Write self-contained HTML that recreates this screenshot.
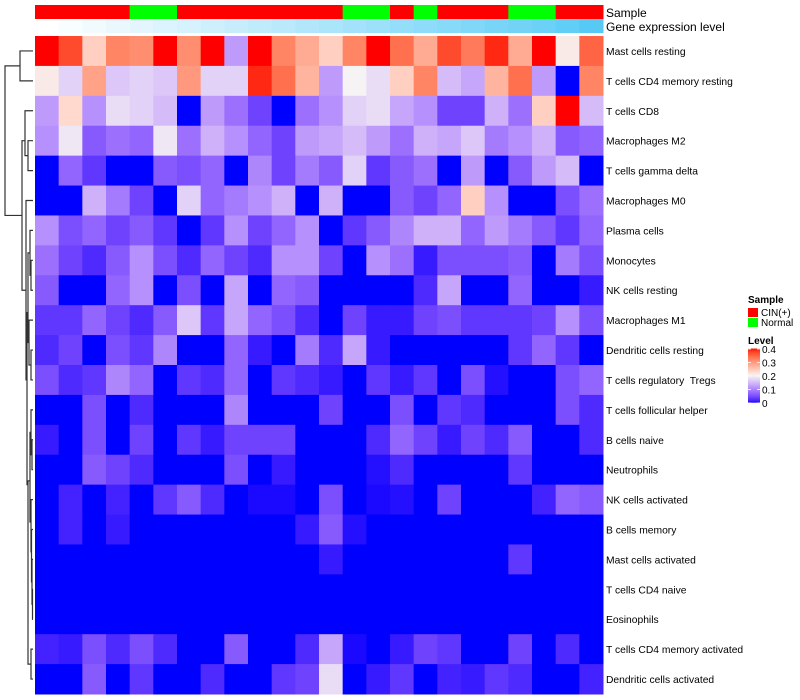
<!DOCTYPE html>
<html><head><meta charset="utf-8"><style>
html,body{margin:0;padding:0;background:#fff;}
svg{display:block;font-family:"Liberation Sans",Arial,sans-serif;}
</style></head><body>
<svg id="chart" width="800" height="700" viewBox="0 0 800 700"></svg>
<script>
const rowLabels=["Mast cells resting","T cells CD4 memory resting","T cells CD8","Macrophages M2","T cells gamma delta","Macrophages M0","Plasma cells","Monocytes","NK cells resting","Macrophages M1","Dendritic cells resting","T cells regulatory  Tregs","T cells follicular helper","B cells naive","Neutrophils","NK cells activated","B cells memory","Mast cells activated","T cells CD4 naive","Eosinophils","T cells CD4 memory activated","Dendritic cells activated"];
const sampleGroups=["CIN","CIN","CIN","CIN","Normal","Normal","CIN","CIN","CIN","CIN","CIN","CIN","CIN","Normal","Normal","CIN","Normal","CIN","CIN","CIN","Normal","Normal","CIN","CIN"];
const geneLevel=[0,0.04,0.08,0.12,0.16,0.2,0.24,0.28,0.32,0.36,0.4,0.44,0.48,0.52,0.56,0.6,0.64,0.68,0.72,0.76,0.8,0.84,0.9,0.96];
const r01=[0.4,0.37,0.24,0.32,0.31,0.4,0.31,0.4,0.12,0.4,0.32,0.28,0.24,0.32,0.4,0.34,0.28,0.37,0.33,0.39,0.28,0.4,0.21,0.35];
const r02=[0.21,0.17,0.29,0.16,0.17,0.16,0.3,0.17,0.17,0.39,0.34,0.27,0.12,0.2,0.18,0.24,0.32,0.15,0.13,0.27,0.34,0.12,0,0.32];
const r03=[0.12,0.23,0.11,0.18,0.17,0.15,0,0.12,0.08,0.04,0,0.08,0.11,0.17,0.18,0.13,0.11,0.04,0.04,0.14,0.08,0.24,0.4,0.15];
const r04=[0.11,0.19,0.06,0.08,0.07,0.19,0.08,0.14,0.11,0.07,0.04,0.12,0.13,0.15,0.12,0.08,0.14,0.13,0.16,0.09,0.11,0.14,0.06,0.07];
const r05=[0,0.07,0.03,0,0,0.06,0.05,0.07,0,0.1,0.04,0.09,0.06,0.17,0.03,0.06,0.08,0,0.12,0,0.06,0.12,0.15,0];
const r06=[0,0,0.14,0.09,0.04,0,0.17,0.07,0.09,0.11,0.14,0,0.14,0,0,0.06,0.04,0.07,0.24,0.11,0,0,0.05,0.08];
const r07=[0.11,0.05,0.07,0.04,0.06,0.03,0,0.03,0.11,0.04,0.07,0.11,0,0.03,0.06,0.1,0.14,0.14,0.07,0.12,0.09,0.06,0.03,0.07];
const r08=[0.08,0.04,0.02,0.06,0.11,0.05,0.02,0.07,0.04,0.02,0.11,0.11,0.04,0,0.11,0.08,0.01,0.05,0.05,0.05,0.06,0,0.09,0.05];
const r09=[0.06,0,0,0.07,0.11,0,0.05,0,0.13,0,0.07,0.06,0,0,0,0,0.02,0.13,0,0,0.07,0,0,0.01];
const r10=[0.03,0.03,0.07,0.04,0.02,0.06,0.16,0.03,0.13,0.07,0.05,0.02,0,0.04,0.01,0.01,0.04,0.05,0.03,0.03,0.03,0.04,0.11,0.05];
const r11=[0.02,0.04,0,0.05,0.03,0.1,0,0,0.07,0.01,0,0.09,0.02,0.13,0.01,0,0,0,0,0,0.03,0.07,0.03,0];
const r12=[0.05,0.02,0.03,0.1,0.07,0,0.03,0.02,0.07,0,0.03,0.02,0.01,0,0.03,0.01,0.03,0,0.05,0.005,0,0,0.05,0.07];
const r13=[0,0,0.05,0,0.02,0,0,0,0.1,0,0,0,0.04,0,0,0.05,0,0.03,0.02,0,0,0,0.05,0.02];
const r14=[0.01,0,0.05,0,0.04,0,0.03,0.01,0.04,0.04,0.04,0,0,0,0.02,0.07,0.04,0.01,0.04,0.02,0.06,0,0,0.02];
const r15=[0,0,0.06,0.04,0.02,0,0,0,0.05,0,0.01,0,0,0,0.005,0.02,0,0,0,0,0.03,0,0,0];
const r16=[0,0.015,0,0.015,0,0.03,0.06,0.02,0,0.003,0.003,0,0.05,0,0.003,0.005,0,0.04,0,0,0,0.015,0.07,0.06];
const r17=[0,0.015,0,0.01,0,0,0,0,0,0,0,0.01,0.06,0.005,0,0,0,0,0,0,0,0,0,0];
const r18=[0,0,0,0,0,0,0,0,0,0,0,0,0.01,0,0,0,0,0,0,0,0.03,0,0,0];
const r19=[0,0,0,0,0,0,0,0,0,0,0,0,0,0,0,0,0,0,0,0,0,0,0,0];
const r20=[0,0,0,0,0,0,0,0,0,0,0,0,0,0,0,0,0,0,0,0,0,0,0,0];
const r21=[0.015,0.01,0.05,0.02,0.05,0.02,0,0,0.06,0,0,0.02,0.13,0.003,0,0.01,0.04,0.03,0,0,0.04,0,0.02,0];
const r22=[0,0,0.06,0,0.03,0,0,0.02,0,0,0.03,0.04,0.18,0,0.01,0.03,0,0.015,0.01,0.03,0.02,0,0,0.015];
const values=[r01,r02,r03,r04,r05,r06,r07,r08,r09,r10,r11,r12,r13,r14,r15,r16,r17,r18,r19,r20,r21,r22];
const legendTicks=[0,0.1,0.2,0.3,0.4];

const NS="http://www.w3.org/2000/svg";
const svg=document.getElementById('chart');
function mk(tag,attrs,parent){const e=document.createElementNS(NS,tag);for(const k in attrs)e.setAttribute(k,attrs[k]);(parent||svg).appendChild(e);return e;}
const X0=35,X1=603,Y0=36,Y1=694;
const nC=values[0].length,nR=values.length;
const cw=(X1-X0)/nC,rh=(Y1-Y0)/nR;
const xPos=c=>X0+c*cw, yPos=r=>Y0+r*rh;
function toLin(c){c/=255;return c<=0.04045?c/12.92:Math.pow((c+0.055)/1.055,2.4);}
function fromLin(c){c=c<=0.0031308?12.92*c:1.055*Math.pow(c,1/2.4)-0.055;return Math.max(0,Math.min(255,Math.round(c*255)));}
function rgb2lab(r,g,b){r=toLin(r);g=toLin(g);b=toLin(b);
 let x=(r*0.4124+g*0.3576+b*0.1805)/0.95047,y=(r*0.2126+g*0.7152+b*0.0722),z=(r*0.0193+g*0.1192+b*0.9505)/1.08883;
 const f=t=>t>0.008856?Math.cbrt(t):7.787*t+16/116;x=f(x);y=f(y);z=f(z);return [116*y-16,500*(x-y),200*(y-z)];}
function lab2rgb(L,a,bb){let y=(L+16)/116,x=a/500+y,z=y-bb/200;
 const fi=t=>t*t*t>0.008856?t*t*t:(t-16/116)/7.787;x=fi(x)*0.95047;y=fi(y);z=fi(z)*1.08883;
 const r=x*3.2406+y*-1.5372+z*-0.4986,g=x*-0.9689+y*1.8758+z*0.0415,b=x*0.0557+y*-0.2040+z*1.0570;
 return `rgb(${fromLin(r)},${fromLin(g)},${fromLin(b)})`;}
const LB=rgb2lab(0,0,255),LW=rgb2lab(245,243,243),LR=rgb2lab(255,0,0);
function color(v){v=Math.max(0,Math.min(0.4,v));let a,b,t;
 if(v<=0.2){a=LB;b=LW;t=v/0.2;}else{a=LW;b=LR;t=(v-0.2)/0.2;}
 return lab2rgb(a[0]+(b[0]-a[0])*t,a[1]+(b[1]-a[1])*t,a[2]+(b[2]-a[2])*t);}
function geneColor(t){const r=Math.round(255+(79-255)*t),g=Math.round(255+(200-255)*t),b=Math.round(255+(245-255)*t);return `rgb(${r},${g},${b})`;}

const ann=mk('g',{});


sampleGroups.forEach((s,c)=>{
 const e=mk('rect',{x:xPos(c),y:5,width:cw+0.5,height:14,fill:s==="CIN"?"#ff0000":"#00ff00"},ann);
 
 
});
geneLevel.forEach((g,c)=>{
 const e=mk('rect',{x:xPos(c),y:19,width:cw+0.5,height:14,fill:geneColor(g)},ann);
 
 
});
let t=mk('text',{x:606,y:17,'font-size':12,fill:'#000'});t.textContent="Sample";

t=mk('text',{x:606,y:31,'font-size':12,fill:'#000'});t.textContent="Gene expression level";


const hm=mk('g',{});


values.forEach((row,r)=>{row.forEach((v,c)=>{
 const e=mk('rect',{x:xPos(c),y:yPos(r),width:cw+0.5,height:rh+0.5,fill:color(v)},hm);
 
 
});});
rowLabels.forEach((l,r)=>{
 const e=mk('text',{x:606,y:yPos(r)+rh/2+4,'font-size':10.3,fill:'#000',style:'white-space:pre'});
 e.textContent=l;
 
 
});

const dg=mk('g',{stroke:'#333','stroke-width':1.2,fill:'none'});


const yc=i=>yPos(i)+rh/2;
function merge(x,ya,yb,xa,xb){mk('path',{d:`M${xa},${ya}H${x}V${yb}H${xb}`},dg);}
merge(20,yc(0),yc(1),33,33);
merge(28,yc(3),yc(4),33,33);
merge(25,yc(2),(yc(3)+yc(4))/2,33,28);
merge(31,yc(7),yc(8),33,33);
merge(30,yc(6),(yc(7)+yc(8))/2,33,31);
merge(31,yc(10),yc(11),33,33);
merge(29,yc(9),(yc(10)+yc(11))/2,33,31);
merge(28,(yc(6)+yc(7.5))/2,(yc(9)+yc(10.5))/2,30,29);
merge(32,yc(13),yc(14),33,33);
merge(31,yc(12),(yc(13)+yc(14))/2,33,32);
merge(32.5,yc(18),yc(19),33,33);
merge(32,yc(17),(yc(18)+yc(19))/2,33,32.5);
merge(31.5,yc(16),(yc(17)+yc(18.5))/2,33,32);
merge(31,yc(15),(yc(16)+yc(17.5))/2,33,31.5);
merge(30,(yc(12)+yc(13.5))/2,(yc(15)+yc(16.5))/2,31,31);
merge(31,yc(20),yc(21),33,33);
merge(28,(yc(12.75)+yc(16))/2,yc(20.5),30,31);
merge(27,(yc(7.75)+yc(9.75))/2,yc(14.5),28,28);
merge(26,yc(5),yc(11),33,27);
merge(22,yc(3),yc(8),25,26);
merge(5,yc(0.5),yc(5.5),20,22);

const lg=mk('g',{});


t=mk('text',{x:748,y:303,'font-size':10,'font-weight':'bold'},lg);t.textContent="Sample";

let e=mk('rect',{x:748,y:308,width:10,height:9,fill:'#ff0000'},lg);

t=mk('text',{x:761,y:316,'font-size':10},lg);t.textContent="CIN(+)";

e=mk('rect',{x:748,y:318,width:10,height:9,fill:'#00ff00'},lg);

t=mk('text',{x:761,y:326,'font-size':10},lg);t.textContent="Normal";

t=mk('text',{x:748,y:344,'font-size':10,'font-weight':'bold'},lg);t.textContent="Level";

const cbTop=349,cbBot=403;
const cbY=v=>cbBot-(v/0.4)*(cbBot-cbTop);
for(let i=0;i<54;i++){const v=0.4*(i+0.5)/54;
 const s=mk('rect',{x:748,y:cbY(v)-1,width:12,height:1.2,fill:color(v)},lg);
 }
legendTicks.forEach(v=>{
 mk('line',{x1:748,x2:751,y1:cbY(v),y2:cbY(v),stroke:'#fff','stroke-width':0.8},lg);
 mk('line',{x1:757,x2:760,y1:cbY(v),y2:cbY(v),stroke:'#fff','stroke-width':0.8},lg);
 const tx=mk('text',{x:762,y:cbY(v)+4,'font-size':10},lg);
 tx.textContent=String(v);
 
 
});
</script>
</body></html>
